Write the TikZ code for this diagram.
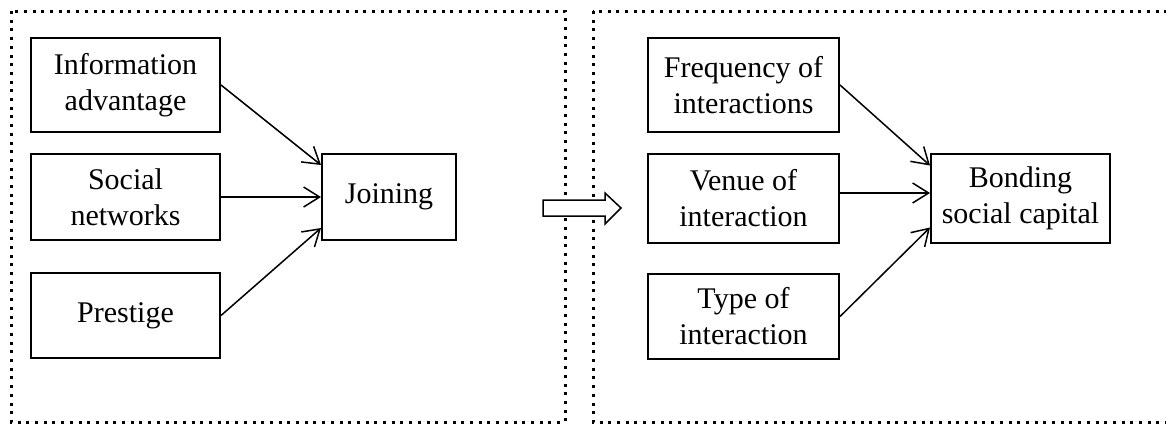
\documentclass[tikz,border=0pt]{standalone}
\usepackage{fontspec}
\setmainfont{Liberation Serif}
\usetikzlibrary{arrows.meta}
\tikzstyle{box}=[draw, line width=1pt, align=center, inner sep=0pt, font=\fontsize{15}{18}\selectfont]
\tikzstyle{link}=[-{Straight Barb[length=8pt,width=10pt]}, line width=0.75pt]
\tikzstyle{frame}=[line width=1.5pt, dash pattern=on 1.5pt off 2.85pt]
\begin{document}
\begin{tikzpicture}[x=0.5pt,y=-0.5pt]
  \clip (0,0) rectangle (1166,424);
  %% Frames
  \draw[frame] (11,11) rectangle (565,422);
  \draw[frame] (593,11) rectangle (1200,422);

  %% Left part
  \draw (125.5,85) node[box,minimum width=94.5pt,minimum height=47pt] (info) {Information\\advantage};
  \draw (125.5,197) node[box,minimum width=94.5pt,minimum height=43pt] (social) {Social\\networks};
  \draw (125.5,315.5) node[box,minimum width=94.5pt,minimum height=42.5pt] (prestige) {Prestige};
  \draw (389,197) node[box,minimum width=67pt,minimum height=43pt] (joining) {Joining};

  \draw[link] (info.east) -- ([yshift=16pt]joining.west);
  \draw[link] (social.east) -- (joining.west);
  \draw[link] (prestige.east) -- ([yshift=-15.5pt]joining.west);

  %% Hollow arrow between the parts
  \draw[line width=0.75pt, fill=white] (543,200) -- (605,200) -- (605,193) -- (621,208)
    -- (605,224) -- (605,216) -- (543,216) -- cycle;

  %% Right part
  \draw (743.5,85) node[box,minimum width=95.5pt,minimum height=47pt] (freq) {Frequency of\\interactions};
  \draw (743.5,198.5) node[box,minimum width=95.5pt,minimum height=44.5pt] (venue) {Venue of\\interaction};
  \draw (743.5,316.5) node[box,minimum width=95.5pt,minimum height=42.5pt] (type) {Type of\\interaction};
  \draw (1020.5,198.5) node[box,minimum width=89.5pt,minimum height=44.5pt] (bonding) {Bonding\\social capital};

  \draw[link] (freq.east) -- ([yshift=16.5pt]bonding.west);
  \draw[link] ([yshift=2.75pt]venue.east) -- ([yshift=2.75pt]bonding.west);
  \draw[link] (type.east) -- ([yshift=-14.5pt]bonding.west);
\end{tikzpicture}
\end{document}
